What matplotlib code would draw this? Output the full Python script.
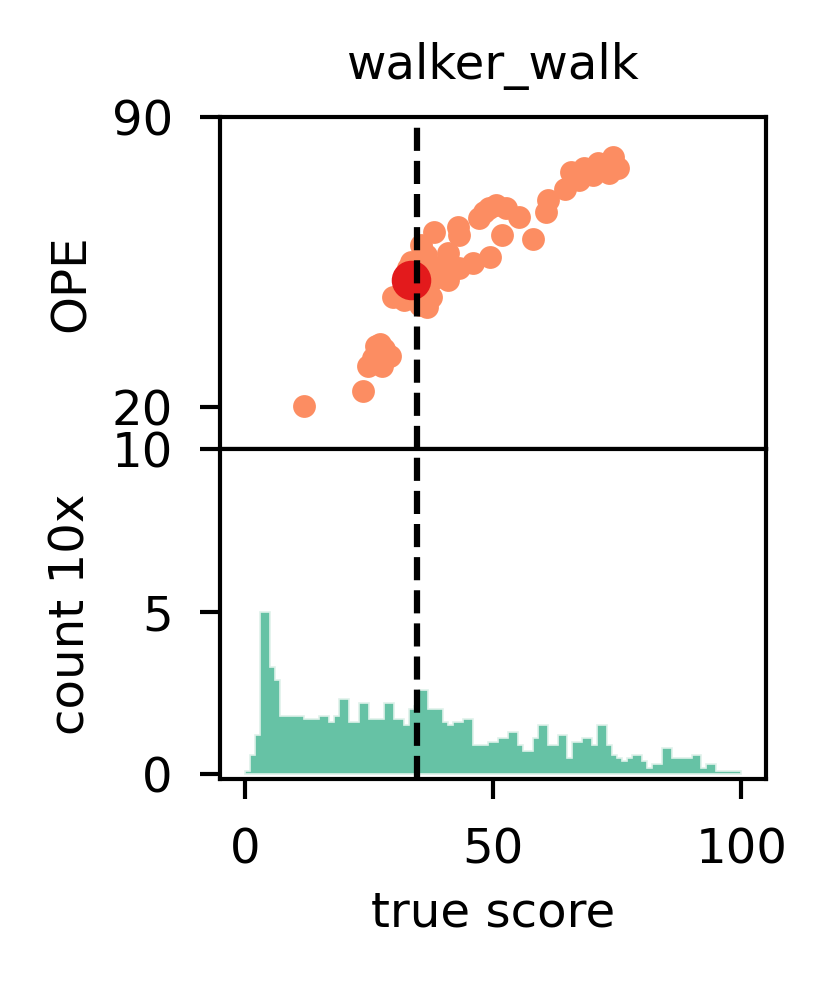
#ope_walker.py

#OPE estimates vs true score, with histogram of true scores below

import numpy as np;
import matplotlib;
matplotlib.use('Agg');
import matplotlib.pyplot as plt;

env_name = "walker_walk";

true_x = [11.9, 23.8, 24.9, 25.8, 26.4, 27.3, 27.7, 28.1, 29.2,
          29.8, 32.1, 32.8, 33.5, 35.5, 38.2, 35.2, 36.8, 37.5, 37.8,
          35.8, 36.5, 40.9, 40.9, 39.2, 42.9, 43.2, 43.2, 45.9, 49.3,
          47.2, 48.2, 49.2, 50.6, 52.6, 55.2, 51.9, 58.0, 60.7, 61.0,
          64.6, 65.7, 67.4, 68.4, 70.1, 71.1, 73.4, 74.1, 75.1];
ope_y = [20.3, 23.9, 30.0, 32.0, 34.8, 35.2, 30.0, 34.0, 32.4,
         46.6, 45.9, 53.5, 55.1, 59.2, 62.4, 44.7, 44.3, 46.7, 50.7,
         52.0, 56.7, 57.2, 50.7, 53.9, 63.6, 61.6, 53.5, 54.7, 56.3,
         65.6, 67.2, 68.0, 68.8, 68.0, 65.8, 61.6, 60.5, 67.2, 70.0,
         72.6, 76.8, 74.8, 77.6, 76.0, 78.8, 76.4, 80.4, 77.6];

sel_x = 33.5; #selected policy
sel_y = 50.6;
true_line = 34.6;

#histogram of true scores (count / 10), one bin per score unit
bin_edges = np.linspace(0, 100, 101);
counts = [0.1, 0.6, 1.2, 5.0, 5.0, 3.3, 2.9, 1.8, 1.8, 1.8,
          1.8, 1.8, 1.7, 1.7, 1.7, 1.8, 1.8, 1.6, 1.8, 2.3,
          2.3, 1.6, 1.6, 2.2, 2.2, 1.7, 1.7, 1.7, 2.2, 2.2,
          1.7, 1.7, 1.5, 2.0, 2.1, 2.6, 2.6, 2.0, 2.0, 2.0,
          1.6, 1.5, 1.6, 1.6, 1.7, 1.7, 0.9, 0.9, 0.9, 1.0,
          1.0, 1.1, 1.1, 1.3, 1.3, 0.9, 0.7, 0.7, 1.1, 1.5,
          1.5, 0.9, 0.9, 1.2, 1.2, 0.5, 1.0, 1.0, 1.1, 1.1,
          0.9, 1.5, 1.5, 0.9, 0.6, 0.5, 0.4, 0.5, 0.6, 0.6,
          0.4, 0.2, 0.3, 0.3, 0.8, 0.8, 0.5, 0.5, 0.5, 0.5,
          0.6, 0.6, 0.2, 0.3, 0.3, 0.1, 0.1, 0.1, 0.1, 0.1];

fs = 11.6;
plt.rcParams['font.family'] = 'DejaVu Sans';
plt.rcParams['font.size'] = fs;
plt.rcParams['axes.linewidth'] = 1.0;
plt.rcParams['xtick.major.size'] = 4.8;
plt.rcParams['ytick.major.size'] = 4.8;
plt.rcParams['xtick.major.width'] = 1.0;
plt.rcParams['ytick.major.width'] = 1.0;
plt.rcParams['xtick.major.pad'] = 6.5;
plt.rcParams['ytick.major.pad'] = 6.5;

fig = plt.figure(figsize=(832/300, 987/300), dpi=300);
ax1 = fig.add_axes([0.2644, 0.5451, 0.6563, 0.3364]);
ax2 = fig.add_axes([0.2644, 0.2107, 0.6563, 0.3344]);

ax1.scatter(true_x, ope_y, s=30, color='#fc8d62', linewidths=0, zorder=2);
ax1.scatter([sel_x], [sel_y], s=90, color='#e31a1c', linewidths=0, zorder=3);
ax1.axvline(true_line, color='black', linestyle='--', lw=1.5, zorder=4);
ax1.set_xlim(-5, 105);
ax1.set_ylim(10, 90);
ax1.set_yticks([20, 90]);
ax1.tick_params(axis='x', bottom=False, labelbottom=False);
ax1.set_ylabel('OPE', fontsize=fs);
ax1.set_title(env_name, fontsize=fs, pad=9);

centers = (bin_edges[:-1] + bin_edges[1:]) / 2;
ax2.hist(centers, bins=bin_edges, weights=counts, histtype='stepfilled',
         facecolor='#66c2a5', edgecolor='#dff1ea', linewidth=0.4);
ax2.axvline(true_line, color='black', linestyle='--', lw=1.5, zorder=4);
ax2.set_xlim(-5, 105);
ax2.set_ylim(-0.15, 10);
ax2.set_yticks([0, 5, 10]);
ax2.set_xticks([0, 50, 100]);
ax2.set_ylabel('count 10x', fontsize=fs);
ax2.set_xlabel('true score', fontsize=fs);

fig.savefig('out.png', dpi=300);
